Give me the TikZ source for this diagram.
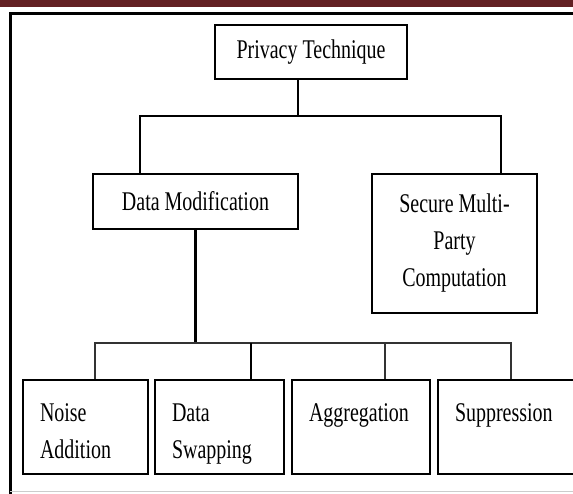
\documentclass[tikz,border=0pt]{standalone}
\usepackage{fontspec}
\setmainfont{Liberation Serif}[FakeStretch=0.74]
\definecolor{bandred}{HTML}{632023}

\begin{document}
\begin{tikzpicture}[x=1pt,y=-1pt,font=\fontsize{27}{37}\selectfont,main node/.style={draw,rectangle,line width=2.5,inner sep=0,align=center},leaf node/.style={draw,rectangle,line width=2,anchor=north west,inner xsep=17,inner ysep=0,align=left,text height=41,text depth=53},trunk/.style={line width=2.5},twig/.style={line width=1.5,black!80}]
            \useasboundingbox (0,0) rectangle (573,494);
            \fill[bandred] (0,0) rectangle (573,7);
            \draw[line width=3] (10,500) -- (10,14) -- (590,14);
            \draw[black!20,line width=1] (10,491) -- (590,491);

            \node[main node, minimum width=192, minimum height=54] (1) at (311,52) {Privacy Technique};
            \node[main node, minimum width=205, minimum height=55] (2) at (195.5,201.5) {Data Modification};
            \node[main node, minimum width=165, minimum height=139] (3) at (454.5,243.5) {Secure Multi-\\Party\\Computation};
            \node[leaf node, text width=91] (4) at (22,379) {Noise\\Addition};
            \node[leaf node, text width=95] (5) at (154,379) {Data\\Swapping};
            \node[leaf node, text width=104] (6) at (291,379) {Aggregation};
            \node[leaf node, text width=106] (7) at (437,379) {Suppression};

            \draw[trunk] ([xshift=-13]1.south) -- ++(0,36) -| ([xshift=-55.5]2.north);
            \draw[trunk] ([xshift=-13]1.south) -- ++(0,36) -| ([xshift=46.5]3.north);
            \draw[trunk] (2.south) -- ++(0,114);
            \draw[twig] ([xshift=9.5]4.north) -- ++(0,-36) -| ([xshift=3]7.north);
            \draw[twig] ([xshift=24]6.north) -- ++(0,-36);
            \draw[trunk] ([xshift=31.5]5.north) -- ++(0,-36);
        \end{tikzpicture}
\end{document}
